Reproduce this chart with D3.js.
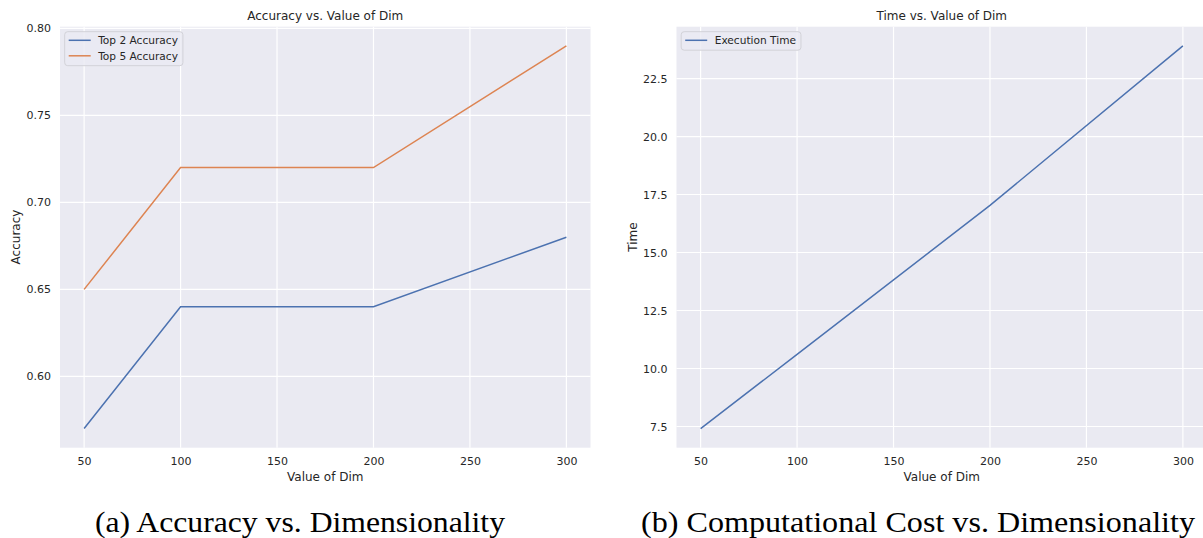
<!DOCTYPE html>
<html>
<head>
<meta charset="utf-8">
<script src="https://cdn.jsdelivr.net/npm/d3@7"></script>
<style>
  body { margin: 0; background: #fff; }
  svg { display: block; font-family: "DejaVu Sans", sans-serif; }
  .tick text { fill: #262626; font-size: 11px; }
  .caption { font-family: "Liberation Serif", "DejaVu Serif", serif; fill: #000; }
</style>
</head>
<body>
<svg id="chart" width="1203" height="538"></svg>
<script>
// data
const dims = [50, 100, 200, 300];
const top2Acc = [0.57, 0.64, 0.64, 0.68];
const top5Acc = [0.65, 0.72, 0.72, 0.79];
const execTime = [7.41, 10.61, 17.03, 23.91];
const xTicks = [50, 100, 150, 200, 250, 300];
const accTicks = [0.60, 0.65, 0.70, 0.75, 0.80];
const timeTicks = [7.5, 10.0, 12.5, 15.0, 17.5, 20.0, 22.5];

const blue = "#4C72B0", orange = "#DD8452";
const svg = d3.select("#chart");

function panel(opts) {
  const g = svg.append("g");
  const x = d3.scaleLinear().domain([37.5, 312.5]).range([opts.left, opts.right]);
  const y = d3.scaleLinear().domain(opts.yDomain).range([447.7, 26.7]);

  // background
  g.append("rect")
    .attr("x", opts.left).attr("y", 26.7)
    .attr("width", opts.right - opts.left).attr("height", 421)
    .attr("fill", "#EAEAF2");

  // grid
  g.selectAll(".vg").data(xTicks).enter().append("line")
    .attr("x1", d => x(d)).attr("x2", d => x(d))
    .attr("y1", 26.7).attr("y2", 447.7)
    .attr("stroke", "#fff").attr("stroke-width", 1.2);
  g.selectAll(".hg").data(opts.yTicks).enter().append("line")
    .attr("x1", opts.left).attr("x2", opts.right)
    .attr("y1", d => y(d)).attr("y2", d => y(d))
    .attr("stroke", "#fff").attr("stroke-width", 1.2);

  // axes (no tick marks / domain, seaborn darkgrid style)
  const xa = g.append("g").attr("transform", "translate(0,447.7)")
    .call(d3.axisBottom(x).tickValues(xTicks).tickSize(0).tickPadding(10).tickFormat(d3.format("d")));
  xa.select(".domain").remove();
  const ya = g.append("g").attr("transform", "translate(" + opts.left + ",0)")
    .call(d3.axisLeft(y).tickValues(opts.yTicks).tickSize(0).tickPadding(9).tickFormat(opts.yFormat));
  ya.select(".domain").remove();
  g.selectAll(".tick text").attr("font-family", "DejaVu Sans, sans-serif");

  // lines
  const line = d3.line().x((d, i) => x(dims[i])).y(d => y(d));
  opts.series.forEach(s => {
    g.append("path").datum(s.values)
      .attr("d", line).attr("fill", "none")
      .attr("stroke", s.color).attr("stroke-width", 1.5);
  });

  // titles
  g.append("text").attr("x", (opts.left + opts.right) / 2).attr("y", 20)
    .attr("text-anchor", "middle").attr("font-size", 12).attr("fill", "#262626")
    .text(opts.title);
  g.append("text").attr("x", (opts.left + opts.right) / 2).attr("y", 481)
    .attr("text-anchor", "middle").attr("font-size", 12).attr("fill", "#262626")
    .text("Value of Dim");
  g.append("text")
    .attr("transform", "translate(" + (opts.left - 40) + "," + 237 + ") rotate(-90)")
    .attr("text-anchor", "middle").attr("font-size", 12).attr("fill", "#262626")
    .text(opts.yLabel);

  // legend
  const lg = g.append("g").attr("transform", "translate(" + (opts.left + 4.7) + ",31.7)");
  let maxW = 0;
  const items = lg.selectAll(".li").data(opts.series).enter().append("g")
    .attr("transform", (d, i) => "translate(0," + (i * 15.5) + ")");
  items.append("line").attr("x1", 4).attr("x2", 26).attr("y1", 8.6).attr("y2", 8.6)
    .attr("stroke", d => d.color).attr("stroke-width", 1.5);
  items.append("text").attr("x", 33.5).attr("y", 12.6)
    .attr("font-size", 10.6).attr("fill", "#262626")
    .text(d => d.name)
    .each(function() { maxW = Math.max(maxW, this.getComputedTextLength()); });
  lg.insert("rect", ":first-child")
    .attr("width", 33.5 + maxW + 5).attr("height", opts.series.length * 15.5 + 3)
    .attr("rx", 3).attr("fill", "#EAEAF2").attr("fill-opacity", 0.8)
    .attr("stroke", "#d2d2d8").attr("stroke-width", 1);

  // caption
  svg.append("text").attr("class", "caption")
    .attr("x", opts.capX).attr("y", 531.5).attr("text-anchor", "middle")
    .attr("font-size", 29)
    .attr("textLength", opts.capW).attr("lengthAdjust", "spacingAndGlyphs")
    .text(opts.caption);
}

panel({
  left: 60, right: 590.5,
  yDomain: [0.559, 0.801], yTicks: accTicks, yFormat: d3.format(".2f"),
  series: [{name: "Top 2 Accuracy", values: top2Acc, color: blue},
           {name: "Top 5 Accuracy", values: top5Acc, color: orange}],
  title: "Accuracy vs. Value of Dim", yLabel: "Accuracy",
  caption: "(a) Accuracy vs. Dimensionality", capX: 300, capW: 410
});

panel({
  left: 676.5, right: 1207,
  yDomain: [6.585, 24.735], yTicks: timeTicks, yFormat: d3.format(".1f"),
  series: [{name: "Execution Time", values: execTime, color: blue}],
  title: "Time vs. Value of Dim", yLabel: "Time",
  caption: "(b) Computational Cost vs. Dimensionality", capX: 918, capW: 554
});
</script>
</body>
</html>
